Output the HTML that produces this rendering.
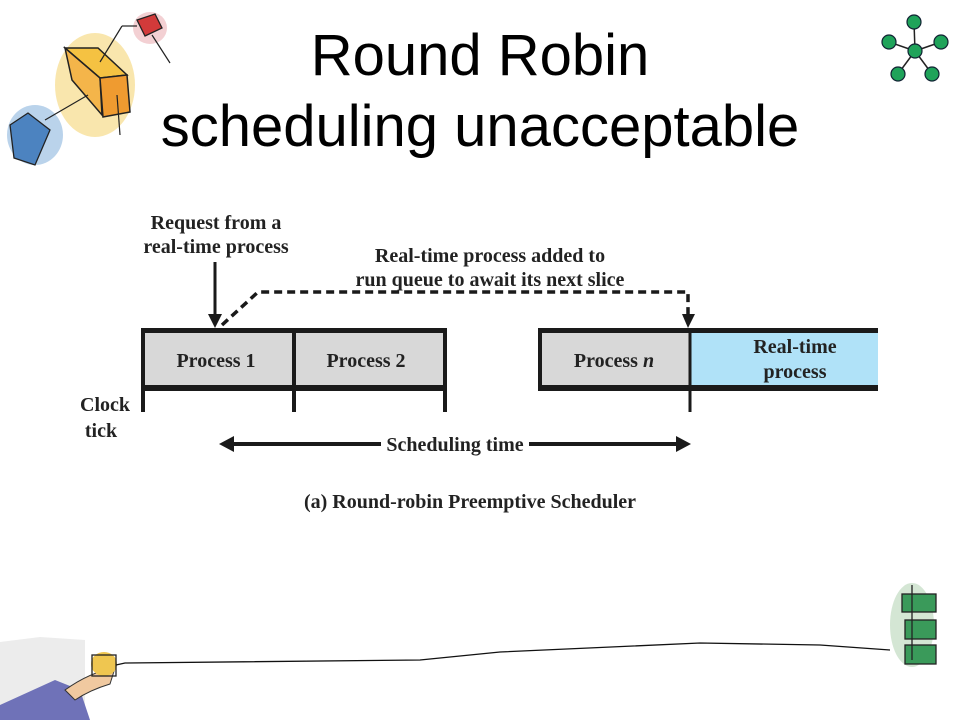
<!DOCTYPE html>
<html><head><meta charset="utf-8"><style>
body{margin:0;background:#fff;}
svg{display:block}
</style></head><body>
<svg width="960" height="720" viewBox="0 0 960 720" xmlns="http://www.w3.org/2000/svg">
<rect width="960" height="720" fill="#fff"/>
<!-- top-left decoration -->
<ellipse cx="95" cy="85" rx="40" ry="52" fill="#f6dc8a" opacity="0.7"/>
<ellipse cx="150" cy="28" rx="17" ry="16" fill="#f0c4c8" opacity="0.8"/>
<ellipse cx="35" cy="135" rx="28" ry="30" fill="#a9c8e6" opacity="0.8"/>
<polygon points="65,48 98,48 127,75 100,78" fill="#f5c242" stroke="#222" stroke-width="1.5"/>
<polygon points="65,48 100,78 102,115 72,80" fill="#f4b54a" stroke="#222" stroke-width="1.5"/>
<polygon points="100,78 127,75 130,112 103,117" fill="#ef9b30" stroke="#222" stroke-width="1.5"/>
<polygon points="137,20 155,14 162,28 145,36" fill="#d23a3a" stroke="#222" stroke-width="1.3"/>
<polygon points="10,125 28,113 50,130 35,165 14,158" fill="#4c83c0" stroke="#222" stroke-width="1.3"/>
<line x1="100" y1="62" x2="122" y2="26" stroke="#222" stroke-width="1.2"/>
<line x1="122" y1="26" x2="137" y2="26" stroke="#222" stroke-width="1.2"/>
<line x1="152" y1="35" x2="170" y2="63" stroke="#222" stroke-width="1.2"/>
<line x1="45" y1="120" x2="88" y2="95" stroke="#222" stroke-width="1.2"/>
<line x1="117" y1="95" x2="120" y2="135" stroke="#222" stroke-width="1.2"/>
<!-- top-right network -->
<g stroke="#222" stroke-width="1.5">
<line x1="915" y1="51" x2="914" y2="22"/><line x1="915" y1="51" x2="889" y2="42"/>
<line x1="915" y1="51" x2="941" y2="42"/><line x1="915" y1="51" x2="898" y2="74"/>
<line x1="915" y1="51" x2="932" y2="74"/>
</g>
<g fill="#1fa35a" stroke="#123" stroke-width="1.2">
<circle cx="915" cy="51" r="7"/><circle cx="914" cy="22" r="7"/><circle cx="889" cy="42" r="7"/>
<circle cx="941" cy="42" r="7"/><circle cx="898" cy="74" r="7"/><circle cx="932" cy="74" r="7"/>
</g>
<!-- title -->
<g font-family="Liberation Sans, sans-serif" font-size="58" text-anchor="middle" fill="#000">
<text x="480" y="75">Round Robin</text>
<text x="480" y="146">scheduling unacceptable</text>
</g>
<!-- diagram -->
<rect x="143" y="332" width="302" height="54" fill="#d8d8d8"/>
<rect x="540" y="332" width="150" height="54" fill="#d8d8d8"/>
<rect x="690" y="332" width="188" height="54" fill="#b0e2f8"/>
<g stroke="#1a1a1a" fill="none">
<line x1="141" y1="330.5" x2="447" y2="330.5" stroke-width="5"/>
<line x1="141" y1="388" x2="447" y2="388" stroke-width="6"/>
<line x1="538" y1="330.5" x2="878" y2="330.5" stroke-width="5"/>
<line x1="538" y1="388" x2="878" y2="388" stroke-width="6"/>
<line x1="143" y1="328" x2="143" y2="412" stroke-width="4"/>
<line x1="294" y1="328" x2="294" y2="412" stroke-width="4"/>
<line x1="445" y1="328" x2="445" y2="412" stroke-width="4"/>
<line x1="540" y1="328" x2="540" y2="391" stroke-width="4"/>
<line x1="690" y1="328" x2="690" y2="412" stroke-width="3"/>
<line x1="215" y1="262" x2="215" y2="318" stroke-width="3"/>
<polyline points="222,325 258,292 688,292 688,316" stroke-width="3.5" stroke-dasharray="8,5"/>
<line x1="232" y1="444" x2="381" y2="444" stroke-width="4"/>
<line x1="529" y1="444" x2="678" y2="444" stroke-width="4"/>
</g>
<g fill="#1a1a1a">
<polygon points="208,314 222,314 215,328"/>
<polygon points="682,314 695,314 688,328"/>
<polygon points="219,444 234,436 234,452"/>
<polygon points="691,444 676,436 676,452"/>
</g>
<g font-family="Liberation Serif, serif" font-weight="bold" font-size="20" fill="#222" text-anchor="middle">
<text x="216" y="229">Request from a</text>
<text x="216" y="253">real-time process</text>
<text x="490" y="262">Real-time process added to</text>
<text x="490" y="286">run queue to await its next slice</text>
<text x="216" y="367">Process 1</text>
<text x="366" y="367">Process 2</text>
<text x="614" y="367">Process <tspan font-style="italic">n</tspan></text>
<text x="795" y="353">Real-time</text>
<text x="795" y="378">process</text>
<text x="105" y="411">Clock</text>
<text x="101" y="437">tick</text>
<text x="455" y="451">Scheduling time</text>
<text x="470" y="508">(a) Round-robin Preemptive Scheduler</text>
</g>
<!-- bottom decoration -->
<path d="M0,642 L40,637 L85,640 L85,720 L0,720 Z" fill="#ececec"/>
<polygon points="0,705 55,680 80,690 90,720 0,720" fill="#6f72b8"/>
<path d="M65,690 Q90,672 115,668 L110,684 Q90,690 75,700 Z" fill="#f0c9a0" stroke="#333" stroke-width="1"/>
<ellipse cx="104" cy="664" rx="13" ry="12" fill="#efc650"/>
<rect x="92" y="655" width="24" height="21" fill="none" stroke="#222" stroke-width="1.3"/>
<path d="M116,665 L125,663 L420,660 L500,652 L700,643 L820,645 L890,650" fill="none" stroke="#111" stroke-width="1.3"/>
<ellipse cx="912" cy="625" rx="22" ry="42" fill="#c9e0c9" opacity="0.8"/>
<g stroke="#222" stroke-width="1.3">
<rect x="902" y="594" width="34" height="18" fill="#3a9a5a"/>
<rect x="905" y="620" width="31" height="19" fill="#3a9a5a"/>
<rect x="905" y="645" width="31" height="19" fill="#3a9a5a"/>
<line x1="912" y1="585" x2="912" y2="660"/>
</g>
</svg>
</body></html>
